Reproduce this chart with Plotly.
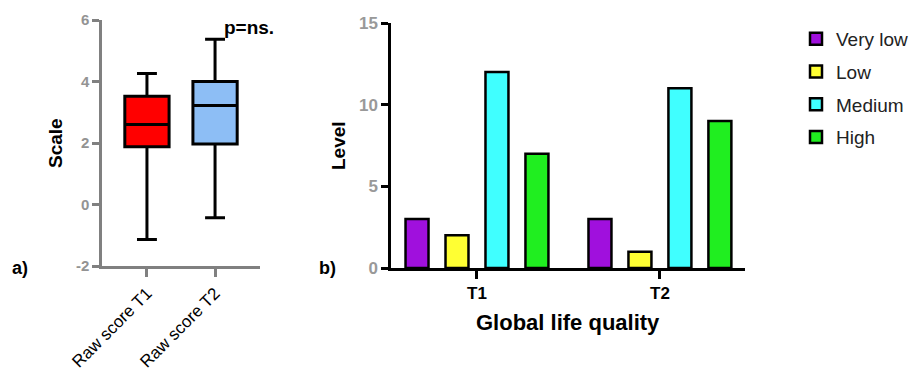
import plotly.graph_objects as go

# ---- Data ----
box_categories = ["Raw score T1", "Raw score T2"]
box_q1 = [1.88, 1.97]
box_median = [2.6, 3.22]
box_q3 = [3.52, 4.0]
box_lower = [-1.14, -0.43]
box_upper = [4.26, 5.37]
box_colors = ["#FF0000", "#8DBEF5"]
box_yticks = [-2, 0, 2, 4, 6]
box_yticktext = ["-2", "0", "2", "4", "6"]

bar_groups = ["T1", "T2"]
bar_series = ["Very low", "Low", "Medium", "High"]
very_low = [3, 3]
low = [2, 1]
medium = [12, 11]
high = [7, 9]
bar_colors = ["#A010DD", "#FFFF33", "#40FFFF", "#20EE20"]
bar_yticks = [0, 5, 10, 15]

W, H = 914, 374
FONT = "Liberation Sans, Arial, sans-serif"

def px_x(p):
    return p / W

def px_y(p):
    return 1 - p / H

fig = go.Figure()

for i, cat in enumerate(box_categories):
    fig.add_trace(go.Box(
        x=[cat], q1=[box_q1[i]], median=[box_median[i]], q3=[box_q3[i]],
        lowerfence=[box_lower[i]], upperfence=[box_upper[i]],
        fillcolor=box_colors[i], line=dict(color="black", width=3),
        width=0.65, whiskerwidth=0.45, boxpoints=False,
        xaxis="x", yaxis="y", showlegend=False,
    ))

series_vals = [very_low, low, medium, high]
for name, vals, col in zip(bar_series, series_vals, bar_colors):
    fig.add_trace(go.Bar(
        x=bar_groups, y=vals, name=name,
        marker=dict(color=col, line=dict(color="black", width=2.5)),
        xaxis="x2", yaxis="y2", legendgroup=name,
    ))

fig.update_layout(
    width=W, height=H,
    margin=dict(l=0, r=0, t=0, b=0, autoexpand=False),
    paper_bgcolor="white", plot_bgcolor="white",
    boxmode="overlay",
    barmode="group", bargap=0.126, bargroupgap=0.425,
    font=dict(family=FONT),
    xaxis=dict(
        domain=[px_x(102), px_x(260)], range=[-0.66, 1.66],
        showline=True, linecolor="#808080", linewidth=2.5,
        ticks="outside", ticklen=8, tickwidth=2.5, tickcolor="#808080",
        tickangle=-45, showgrid=False, zeroline=False, automargin=False,
        tickfont=dict(family=FONT, size=17, color="black"),
        anchor="y",
    ),
    yaxis=dict(
        domain=[px_y(266), px_y(20)], range=[-2, 6],
        tickvals=box_yticks, ticktext=box_yticktext,
        showline=True, linecolor="#808080", linewidth=2.5,
        ticks="outside", ticklen=7, tickwidth=2.5, tickcolor="#808080",
        showgrid=False, zeroline=False, automargin=False,
        tickfont=dict(family=FONT, size=15, color="#939393", weight="bold"),
        anchor="x",
    ),
    xaxis2=dict(
        domain=[px_x(391), px_x(745)], range=[-0.47, 1.465],
        showline=True, linecolor="black", linewidth=2.5,
        ticks="outside", ticklen=8, tickwidth=2.5, tickcolor="black",
        showgrid=False, zeroline=False, automargin=False,
        tickfont=dict(family=FONT, size=17, color="black", weight="bold"),
        anchor="y2",
    ),
    yaxis2=dict(
        domain=[px_y(268), px_y(23)], range=[0, 15],
        tickvals=bar_yticks,
        showline=True, linecolor="black", linewidth=2.5,
        ticks="outside", ticklen=7, tickwidth=2.5, tickcolor="black",
        showgrid=False, zeroline=False, automargin=False,
        tickfont=dict(family=FONT, size=17, color="#999999", weight="bold"),
        anchor="x2",
    ),
    legend=dict(
        x=px_x(796), y=px_y(20), xanchor="left", yanchor="top",
        font=dict(family=FONT, size=19, color="#222222"),
        traceorder="grouped", tracegroupgap=5,
        bgcolor="rgba(0,0,0,0)",
    ),
)

annos = [
    dict(text="Scale", x=px_x(55), y=px_y(143), textangle=-90, size=19),
    dict(text="Level", x=px_x(338), y=px_y(146), textangle=-90, size=19),
    dict(text="Global life quality", x=px_x(568), y=px_y(322), textangle=0, size=22),
    dict(text="a)", x=px_x(20), y=px_y(268), textangle=0, size=18),
    dict(text="b)", x=px_x(327), y=px_y(268), textangle=0, size=18),
    dict(text="p=ns.", x=px_x(249), y=px_y(28), textangle=0, size=19),
]
for a in annos:
    fig.add_annotation(
        text=a["text"], x=a["x"], y=a["y"], xref="paper", yref="paper",
        showarrow=False, textangle=a["textangle"],
        xanchor="center", yanchor="middle",
        font=dict(family=FONT, size=a["size"], color="black", weight="bold"),
    )

fig.write_html(
    "out.html",
    config={"displayModeBar": False},
    post_script="document.body.style.margin='0px';document.body.style.overflow='hidden';",
)
